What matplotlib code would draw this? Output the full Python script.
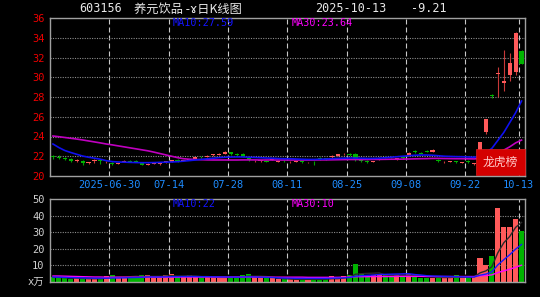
import matplotlib
matplotlib.use("Agg")
import matplotlib.pyplot as plt
from matplotlib.patches import Rectangle
import numpy as np
import pandas as pd

# trading days shown (national day holiday removed)
days = pd.bdate_range("2025-06-16", "2025-10-13")
days = days[(days < "2025-10-01") | (days > "2025-10-08")]

tick_dates = ["2025-06-30", "2025-07-14", "2025-07-28", "2025-08-11",
              "2025-08-25", "2025-09-08", "2025-09-22", "2025-10-13"]
tick_labels = ["2025-06-30", "07-14", "07-28", "08-11", "08-25", "09-08", "09-22", "10-13"]

opens = [22.05, 21.95, 21.85, 21.70, 21.50, 21.55, 21.30, 21.50, 21.62, 21.40,
         21.35, 21.25, 21.42, 21.55, 21.55, 21.35, 21.15, 21.25, 21.22, 21.40,
         21.45, 21.62, 21.55, 21.65, 21.75, 21.95, 21.95, 22.10, 22.15, 22.25,
         22.40, 22.25, 22.20, 21.80, 21.50, 21.50, 21.55, 21.65, 21.45, 21.55,
         21.42, 21.45, 21.50, 21.38, 21.45, 21.85, 21.78, 21.90, 22.05, 22.20,
         22.27, 22.25, 21.60, 21.55, 21.45, 21.70, 21.95, 21.92, 21.72, 21.88,
         22.10, 22.50, 22.35, 22.55, 22.45, 21.65, 21.40, 21.45, 21.50, 21.35,
         21.55, 21.20, 22.30, 24.50, 28.25, 30.30, 29.40, 30.25, 30.55, 32.70]
highs = [22.15, 22.15, 21.90, 21.78, 21.72, 21.60, 21.45, 21.72, 21.68, 21.50,
         21.40, 21.35, 21.60, 21.60, 21.60, 21.40, 21.30, 21.35, 21.30, 21.50,
         21.60, 21.68, 21.65, 21.75, 21.90, 22.00, 22.10, 22.25, 22.30, 22.50,
         22.45, 22.30, 22.35, 21.85, 21.60, 21.65, 21.60, 21.80, 21.55, 21.60,
         21.50, 21.55, 21.55, 21.45, 21.50, 21.90, 21.82, 22.10, 22.25, 22.30,
         22.30, 22.30, 21.65, 21.60, 21.55, 21.90, 22.00, 22.00, 21.80, 21.92,
         22.45, 22.60, 22.40, 22.60, 22.75, 21.70, 21.50, 21.55, 21.55, 21.45,
         21.60, 21.35, 23.40, 25.74, 28.30, 31.05, 32.75, 32.50, 34.55, 32.75]
lows = [21.75, 21.75, 21.60, 21.45, 21.45, 21.10, 21.20, 21.30, 21.20, 21.30,
        21.10, 21.20, 21.40, 21.40, 21.40, 21.10, 21.10, 21.20, 21.15, 21.35,
        21.40, 21.45, 21.50, 21.60, 21.70, 21.85, 21.90, 22.05, 22.10, 22.20,
        22.15, 22.05, 21.95, 21.50, 21.40, 21.45, 21.40, 21.60, 21.40, 21.45,
        21.35, 21.40, 21.35, 21.30, 21.10, 21.60, 21.60, 21.85, 22.00, 22.15,
        22.05, 21.50, 21.45, 21.30, 21.40, 21.65, 21.80, 21.80, 21.65, 21.75,
        22.05, 22.30, 22.20, 22.40, 22.40, 21.45, 21.35, 21.40, 21.30, 21.30,
        21.35, 21.10, 22.20, 24.30, 27.90, 28.00, 28.65, 29.65, 30.20, 31.30]
closes = [21.90, 21.85, 21.68, 21.55, 21.65, 21.30, 21.40, 21.65, 21.55, 21.45,
          21.20, 21.30, 21.52, 21.45, 21.45, 21.15, 21.25, 21.30, 21.28, 21.48,
          21.58, 21.50, 21.62, 21.72, 21.88, 21.90, 22.05, 22.20, 22.25, 22.42,
          22.20, 22.10, 22.00, 21.58, 21.55, 21.60, 21.45, 21.75, 21.50, 21.50,
          21.46, 21.50, 21.42, 21.42, 21.40, 21.75, 21.68, 22.05, 22.19, 22.27,
          22.12, 21.60, 21.50, 21.40, 21.52, 21.85, 21.88, 21.85, 21.78, 21.82,
          22.35, 22.38, 22.25, 22.45, 22.60, 21.52, 21.46, 21.52, 21.38, 21.42,
          21.40, 21.27, 23.40, 25.74, 28.15, 30.45, 29.65, 31.45, 34.50, 31.35]

ma10 = [23.24, 22.88, 22.58, 22.38, 22.20, 22.02, 21.90, 21.80, 21.70, 21.55,
        21.46, 21.42, 21.40, 21.38, 21.36, 21.35, 21.35, 21.36, 21.38, 21.40,
        21.42, 21.45, 21.50, 21.56, 21.62, 21.68, 21.74, 21.80, 21.86, 21.90,
        21.92, 21.93, 21.93, 21.90, 21.88, 21.85, 21.82, 21.80, 21.77, 21.75,
        21.75, 21.72, 21.70, 21.68, 21.68, 21.70, 21.72, 21.75, 21.78, 21.80,
        21.82, 21.82, 21.80, 21.78, 21.78, 21.80, 21.85, 21.90, 21.95, 22.00,
        22.05, 22.10, 22.12, 22.12, 22.10, 22.05, 22.00, 21.98, 21.96, 21.95,
        21.93, 21.90, 22.00, 22.35, 22.80, 23.60, 24.40, 25.40, 26.40, 27.59]
ma30 = [24.05, 23.98, 23.90, 23.82, 23.74, 23.65, 23.55, 23.45, 23.35, 23.24,
        23.15, 23.05, 22.95, 22.85, 22.75, 22.65, 22.55, 22.42, 22.28, 22.14,
        22.00, 21.86, 21.75, 21.70, 21.67, 21.65, 21.63, 21.62, 21.62, 21.62,
        21.62, 21.62, 21.63, 21.63, 21.63, 21.62, 21.62, 21.62, 21.62, 21.62,
        21.62, 21.62, 21.62, 21.62, 21.62, 21.63, 21.63, 21.64, 21.65, 21.66,
        21.67, 21.67, 21.67, 21.67, 21.68, 21.68, 21.69, 21.70, 21.70, 21.71,
        21.72, 21.74, 21.75, 21.76, 21.78, 21.78, 21.77, 21.76, 21.75, 21.75,
        21.74, 21.73, 21.78, 21.90, 22.10, 22.38, 22.62, 22.95, 23.35, 23.64]

# volume in 10k lots
volumes = [2.8, 2.8, 2.2, 1.8, 2.2, 1.8, 2.2, 2.2, 1.8, 3.6,
           4.2, 2.8, 2.8, 2.8, 2.8, 4.2, 4.2, 2.8, 2.8, 4.2,
           4.8, 3.2, 2.8, 4.2, 2.8, 2.8, 2.8, 2.8, 2.8, 2.8,
           2.8, 2.8, 4.2, 4.8, 2.8, 2.7, 2.2, 2.2, 1.6, 1.6,
           1.6, 1.6, 1.6, 1.6, 1.6, 1.6, 1.6, 3.5, 1.6, 3.5,
           4.1, 10.6, 4.7, 3.1, 4.1, 5.1, 4.1, 3.5, 4.1, 3.5,
           5.1, 3.1, 2.7, 2.7, 2.7, 2.7, 2.7, 2.7, 4.1, 2.7,
           2.7, 3.5, 14.2, 10.2, 15.6, 44.5, 33.3, 33.3, 37.7, 30.8]
vol_ma5 = [2.9, 2.8, 2.6, 2.4, 2.4, 2.2, 2.0, 2.0, 2.0, 2.4,
           2.8, 2.9, 3.0, 3.2, 3.5, 3.3, 3.4, 3.4, 3.4, 3.6,
           3.8, 3.6, 3.6, 3.8, 3.6, 3.3, 3.3, 3.1, 2.8, 2.8,
           2.8, 2.8, 3.1, 3.5, 3.5, 3.5, 3.3, 3.0, 2.3, 2.0,
           1.8, 1.6, 1.6, 1.6, 1.6, 1.6, 1.6, 2.0, 2.0, 2.4,
           2.9, 4.7, 5.0, 5.2, 5.3, 5.5, 4.2, 4.0, 4.2, 4.1,
           4.1, 3.9, 3.7, 3.4, 3.3, 2.8, 2.7, 2.7, 3.0, 3.0,
           3.0, 3.1, 5.5, 6.7, 9.2, 17.6, 23.6, 27.4, 32.9, 35.9]
vol_ma10 = [3.0, 2.9, 2.8, 2.7, 2.6, 2.5, 2.4, 2.3, 2.3, 2.3,
            2.4, 2.4, 2.5, 2.6, 2.7, 2.8, 3.0, 3.0, 3.0, 3.1,
            3.2, 3.2, 3.3, 3.3, 3.3, 3.2, 3.2, 3.1, 3.1, 3.0,
            3.0, 2.9, 3.0, 3.1, 3.0, 2.9, 2.8, 2.7, 2.5, 2.4,
            2.3, 2.2, 2.2, 2.2, 2.2, 2.2, 2.2, 2.3, 2.4, 2.5,
            2.7, 3.5, 3.8, 4.0, 4.2, 4.5, 4.6, 4.7, 4.8, 4.9,
            5.0, 4.5, 4.2, 3.8, 3.6, 3.5, 3.4, 3.3, 3.2, 3.1,
            3.0, 3.0, 4.1, 4.8, 6.1, 10.3, 13.4, 16.4, 19.8, 22.6]
vol_ma30 = [3.6, 3.6, 3.5, 3.4, 3.3, 3.2, 3.1, 3.0, 3.0, 2.9,
            2.9, 2.9, 2.9, 2.9, 2.9, 2.9, 2.9, 2.9, 2.9, 2.9,
            2.9, 2.9, 3.0, 3.0, 3.0, 3.0, 3.0, 3.0, 3.0, 3.0,
            3.0, 3.0, 3.0, 3.0, 3.0, 2.9, 2.9, 2.9, 2.9, 2.9,
            2.9, 2.9, 2.9, 2.8, 2.8, 2.8, 2.8, 2.8, 2.8, 2.9,
            3.0, 3.2, 3.2, 3.2, 3.3, 3.3, 3.3, 3.3, 3.4, 3.4,
            3.4, 3.4, 3.4, 3.3, 3.3, 3.3, 3.3, 3.3, 3.3, 3.3,
            3.3, 3.3, 3.7, 3.9, 4.3, 5.7, 6.7, 7.7, 8.9, 10.1]

BG = "black"
UP, DOWN = "#ff5a5a", "#00b400"
MONO = ["DejaVu Sans Mono", "Noto Sans CJK SC"]
CJK = ["Noto Sans CJK SC", "DejaVu Sans"]

x = np.arange(len(days))
o, h, l, c = map(np.array, (opens, highs, lows, closes))
up = c >= o
body_col = np.where(up, UP, DOWN)
wick_col = np.where(up, "#c83838", "#00a000")
tick_pos = days.get_indexer(pd.to_datetime(tick_dates)) - 0.5

W, H = 540, 297
fig = plt.figure(figsize=(W / 100, H / 100), dpi=100, facecolor=BG)


def px(xp, yp):
    return xp / W, 1 - yp / H


ax = fig.add_axes([50 / W, 1 - 176 / H, 474.5 / W, 158 / H], facecolor=BG)
axv = fig.add_axes([50 / W, 1 - 282 / H, 474.5 / W, 83 / H], facecolor=BG)

for a in (ax, axv):
    a.set_xlim(-0.5, len(days) - 0.5)
    for s in a.spines.values():
        s.set_color("#a0a0a0")
        s.set_linewidth(1)
    for t in tick_pos:
        a.axvline(t, color="#c8c8c8", lw=0.8, ls=(0, (4.5, 2.7)), zorder=1)

# price panel
ax.set_ylim(20, 36)
for yv in range(22, 36, 2):
    ax.axhline(yv, color="#8c8c8c", lw=0.8, ls=(0, (1, 1.2)), zorder=1)
ax.vlines(x, l, h, colors=wick_col, lw=0.8, zorder=2)
ax.bar(x, np.maximum(np.abs(c - o), 0.04), bottom=np.minimum(o, c), width=0.7,
       color=body_col, zorder=3)
ax.plot(x, ma30, color="#c000c0", lw=1.2, zorder=4)
ax.plot(x, ma10, color="#1010f0", lw=1.2, zorder=4)

ax.set_yticks(range(20, 37, 2))
ax.tick_params(axis="y", length=0, pad=4, labelcolor="#ee0000", labelsize=7.5)
ax.set_xticks(tick_pos)
ax.set_xticklabels(tick_labels)
ax.tick_params(axis="x", length=0, pad=3, labelcolor="#1e8cff", labelsize=7.5)
for t in ax.get_xticklabels() + ax.get_yticklabels():
    t.set_family(MONO)

ax.add_patch(Rectangle((0.897, 0.006), 0.103, 0.163, transform=ax.transAxes,
                       facecolor="#d40000", edgecolor="#e02020", lw=0.5, zorder=6,
                       clip_on=False))
ax.text(0.897 + 0.0515, 0.085, "龙虎榜", transform=ax.transAxes, ha="center",
        va="center", color="#ffcaca", fontsize=8.5, family=CJK, zorder=7)

# volume panel
axv.set_ylim(0, 50)
for yv in range(10, 50, 10):
    axv.axhline(yv, color="#8c8c8c", lw=0.8, ls=(0, (1, 1.2)), zorder=1)
axv.bar(x, volumes, width=0.85, color=body_col, zorder=2)
axv.plot(x, vol_ma5, color="#2a2a2a", lw=1.0, zorder=3)
axv.plot(x, vol_ma30, color="#ff00ff", lw=1.0, zorder=3)
axv.plot(x, vol_ma10, color="#1a1aff", lw=1.0, zorder=3)
axv.set_yticks(range(0, 51, 10))
axv.set_yticklabels(["x万", "10", "20", "30", "40", "50"])
axv.tick_params(axis="y", length=0, pad=4, labelcolor="#d0d0d0", labelsize=7.5)
axv.set_xticks([])
for t in axv.get_yticklabels():
    t.set_family(MONO)

# header texts
fig.text(*px(79, 9), "603156", color="#e8e8e8", fontsize=8.5, family=MONO, va="center")
fig.text(*px(134, 9), "养元饮品 -ɤ日K线图", color="#e8e8e8", fontsize=8.8,
         family=CJK, va="center")
fig.text(*px(315, 9), "2025-10-13", color="#e8e8e8", fontsize=8.5, family=MONO, va="center")
fig.text(*px(411, 9), "-9.21", color="#e8e8e8", fontsize=8.5, family=MONO, va="center")

fig.text(*px(173, 23), f"MA10:{ma10[-1]:.2f}", color="#1414ff", fontsize=7.3,
         family=MONO, va="center")
fig.text(*px(292, 23), f"MA30:{ma30[-1]:.2f}", color="#ff00ff", fontsize=7.3,
         family=MONO, va="center")
fig.text(*px(173, 204), f"MA10:{int(vol_ma10[-1])}", color="#1414ff", fontsize=7.3,
         family=MONO, va="center")
fig.text(*px(292, 204), f"MA30:{int(vol_ma30[-1])}", color="#ff00ff", fontsize=7.3,
         family=MONO, va="center")

fig.savefig("out.png", dpi=100, facecolor=BG)
